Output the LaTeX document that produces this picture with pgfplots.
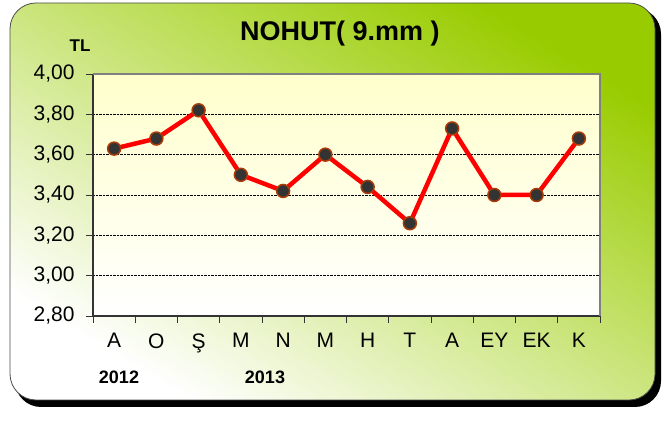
\documentclass[border=0pt]{standalone}
\usepackage{pgfplots}
\pgfplotsset{compat=1.18}
\usepackage{fontspec}
\setmainfont{Liberation Sans}
\definecolor{frgreen}{RGB}{153,204,0}
\definecolor{frmid}{RGB}{200,226,160}
\definecolor{plotyel}{RGB}{255,255,204}
\definecolor{mkedge}{RGB}{170,60,10}
\definecolor{mkfill}{RGB}{51,51,51}
\begin{document}
\begin{tikzpicture}[x=1pt,y=1pt]
\useasboundingbox (0,0) rectangle (667,423);
% shadow
\fill[black, rounded corners=26pt] (15,16) rectangle (661,415);
% frame
\shade[rounded corners=26pt, bottom color=white, middle color=frmid, top color=frgreen, shading angle=-31] (10,23) rectangle (655,420);
\draw[gray!60!black, line width=0.8pt, rounded corners=26pt] (10,23) rectangle (655,420);
% title
\node[font=\bfseries\fontsize{27}{30}\selectfont] at (340,389) {NOHUT( 9.mm )};
\node[font=\bfseries\fontsize{17}{19}\selectfont] at (80,377) {TL};
\node[font=\bfseries\fontsize{18}{20}\selectfont] at (119,46) {2012};
\node[font=\bfseries\fontsize{18}{20}\selectfont] at (265,46) {2013};
\begin{axis}[
  at={(93pt,107pt)}, anchor=south west,
  width=507pt, height=242pt, scale only axis,
  xmin=-0.5, xmax=11.5, ymin=2.8, ymax=4.0,
  xtick={-0.5,0.5,...,11.5},
  x tick label as interval,
  xticklabels={A,O,Ş,M,N,M,H,T,A,EY,EK,K},
  ytick={2.8,3.0,...,4.01},
  /pgf/number format/fixed,
  /pgf/number format/fixed zerofill,
  /pgf/number format/precision=2,
  /pgf/number format/use comma,
  /pgf/number format/assume math mode=true,
  tick label style={font=\fontsize{21}{24}\selectfont, text=black},
  yticklabel style={xshift=-8pt},
  xticklabel style={yshift=-7pt},
  tick align=outside,
  major tick length=7pt,
  tick style={black!80, line width=0.8pt},
  axis x line*=bottom, axis y line*=left,
  x axis line style={black!80, line width=1.3pt, -},
  y axis line style={black!80, line width=1.3pt, -},
  ymajorgrids,
  major grid style={black, densely dotted, line width=0.6pt},
  axis background/.style={shade, top color=plotyel, bottom color=white},
  clip=false,
]
\draw[gray, line width=1.2pt] (axis cs:-0.5,4.0) -- (axis cs:11.5,4.0) -- (axis cs:11.5,2.8);
\addplot[red, line width=4.5pt, mark=*, mark size=6.5pt,
  mark options={fill=mkfill, draw=mkedge, line width=1.5pt}]
  coordinates {(0,3.63) (1,3.68) (2,3.82) (3,3.50) (4,3.42) (5,3.60) (6,3.44) (7,3.26) (8,3.73) (9,3.40) (10,3.40) (11,3.68)};
\end{axis}
\end{tikzpicture}
\end{document}
